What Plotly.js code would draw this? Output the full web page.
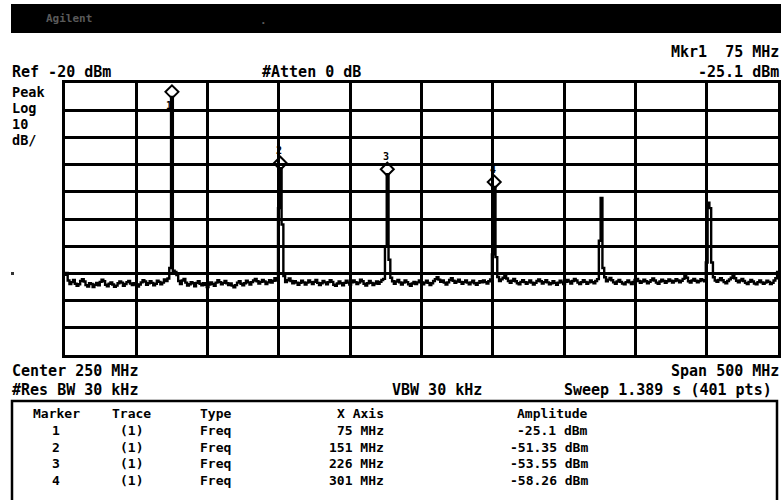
<!DOCTYPE html>
<html>
<head>
<meta charset="utf-8">
<script src="https://cdn.plot.ly/plotly-3.0.1.min.js"></script>
<style>html,body{margin:0;padding:0;background:#fff;}#chart{width:781px;height:500px;}</style>
</head>
<body>
<div id="chart"></div>
<script>
// ---- Instrument settings ----
const refLevel = -20;        // dBm
const dbPerDiv = 10;
const numDivs = 10;
const centerFreq = 250;      // MHz
const spanFreq = 500;        // MHz
const sweepPoints = 401;

// ---- Trace amplitudes (dBm), 401 points ----
const traceAmp = [
-90.5,-89.8,-92.6,-93.9,-93.2,-92.4,-93.8,-94.6,-94.0,-92.8,-92.1,-93.0,-94.3,-94.8,-93.6,-93.9,-95.0,-94.2,-93.5,-94.4,
-93.1,-92.3,-92.9,-94.2,-94.7,-93.8,-93.3,-94.1,-94.9,-94.5,-93.6,-93.0,-93.4,-94.6,-93.9,-93.2,-92.8,-93.7,-94.3,-93.6,
-94.0,-94.8,-94.1,-93.3,-92.5,-93.0,-94.2,-93.6,-92.9,-93.5,-94.4,-93.8,-92.7,-93.1,-94.0,-93.4,-92.2,-92.8,-91.9,-88.0,
-25.1,-89.0,-89.5,-90.6,-92.8,-93.9,-92.6,-92.0,-93.4,-94.5,-94.0,-93.2,-93.6,-94.7,-93.5,-92.9,-93.8,-94.4,-93.6,-94.2,
-95.0,-94.1,-93.3,-93.9,-94.6,-93.4,-92.5,-93.2,-94.0,-93.5,-92.8,-93.6,-94.3,-93.7,-94.5,-95.1,-94.3,-93.4,-92.9,-93.8,
-94.4,-93.6,-92.7,-93.3,-94.1,-93.2,-92.6,-92.0,-92.9,-93.7,-93.1,-92.4,-93.0,-93.9,-93.3,-92.5,-93.4,-92.7,-91.8,-92.6,
-66.0,-51.35,-72.0,-91.0,-93.2,-92.5,-91.9,-92.8,-93.6,-92.9,-93.4,-94.2,-93.5,-92.7,-93.3,-94.1,-93.4,-92.6,-93.2,-93.9,
-93.1,-92.4,-93.5,-94.3,-93.6,-92.8,-93.3,-94.0,-93.2,-92.5,-93.1,-94.2,-94.6,-93.7,-93.0,-93.6,-94.4,-93.5,-92.7,-93.4,
-94.1,-93.3,-92.6,-93.2,-93.9,-93.4,-92.3,-92.9,-93.8,-94.5,-93.6,-92.8,-93.5,-94.3,-93.7,-93.0,-93.8,-93.1,-92.4,-92.0,
-80.0,-53.55,-85.0,-91.6,-92.9,-93.8,-93.0,-92.4,-93.3,-94.1,-93.4,-92.6,-93.2,-94.0,-94.6,-93.7,-93.1,-93.9,-93.3,-92.6,
-93.2,-94.0,-93.4,-92.7,-93.5,-94.3,-93.6,-92.8,-92.1,-91.4,-92.3,-93.1,-92.6,-93.4,-94.1,-93.3,-92.4,-91.8,-92.7,-93.5,
-93.0,-92.3,-93.1,-93.8,-93.2,-92.6,-93.4,-94.0,-93.3,-92.7,-93.6,-94.2,-93.5,-92.9,-93.3,-92.6,-93.2,-93.7,-92.9,-92.2,
-83.0,-58.26,-84.0,-91.3,-92.8,-92.2,-91.6,-90.4,-91.9,-92.8,-93.5,-92.7,-92.0,-92.9,-93.6,-94.0,-93.1,-92.5,-93.2,-93.8,
-93.3,-92.6,-93.4,-94.1,-93.5,-92.8,-92.2,-92.9,-93.7,-93.2,-92.5,-93.3,-94.0,-93.6,-92.9,-93.5,-94.2,-93.4,-92.7,-93.3,
-93.9,-93.1,-92.4,-93.0,-93.7,-92.8,-92.0,-92.6,-93.4,-93.9,-93.2,-92.5,-93.1,-93.8,-93.3,-92.6,-93.2,-93.6,-92.8,-92.1,
-78.0,-62.3,-88.0,-91.4,-92.9,-92.3,-91.7,-92.5,-93.3,-93.8,-93.0,-92.4,-93.1,-93.7,-94.0,-93.2,-92.6,-93.3,-93.9,-93.1,
-92.4,-92.0,-92.8,-93.5,-93.0,-92.3,-92.9,-93.6,-93.1,-92.5,-91.9,-92.6,-93.4,-93.8,-93.0,-92.3,-92.8,-93.5,-92.9,-92.2,
-92.7,-93.4,-92.8,-92.1,-92.6,-93.3,-92.7,-92.0,-90.5,-91.6,-92.9,-93.4,-92.6,-92.0,-92.7,-93.3,-92.8,-92.1,-92.5,-92.9,
-86.0,-64.0,-66.0,-86.0,-91.4,-92.6,-93.1,-92.4,-91.8,-92.5,-93.2,-93.6,-92.8,-92.2,-91.6,-90.9,-91.8,-92.7,-93.3,-92.6,
-92.0,-92.8,-93.5,-93.9,-93.1,-92.4,-93.0,-93.7,-94.0,-93.2,-92.6,-93.3,-93.8,-93.4,-92.7,-93.1,-93.9,-93.5,-92.6,-91.8,
-89.5
];

// ---- Marker table ----
const markerNums  = [1, 2, 3, 4];
const markerTrace = ["(1)", "(1)", "(1)", "(1)"];
const markerType  = ["Freq", "Freq", "Freq", "Freq"];
const markerFreq  = [75, 151, 226, 301];            // MHz
const markerAmp   = [-25.1, -51.35, -53.55, -58.26]; // dBm

// ---- Header / footer texts ----
const headerTexts = {
  brand: "Agilent",
  ref: "Ref -20 dBm",
  atten: "#Atten 0 dB",
  det: ["Peak", "Log", "10", "dB/"],
  center: "Center 250 MHz",
  span: "Span 500 MHz",
  rbw: "#Res BW 30 kHz",
  vbw: "VBW 30 kHz",
  sweep: "Sweep 1.389 s (401 pts)"
};
const tableHeaders = ["Marker", "Trace", "Type", "X Axis", "Amplitude"];

// ---- Build sweep frequency axis ----
const startFreq = centerFreq - spanFreq / 2;
const stepFreq = spanFreq / (sweepPoints - 1);
const freqs = traceAmp.map((_, i) => startFreq + i * stepFreq);

// ---- Geometry helpers (pixel -> paper) ----
const W = 781, H = 500, L = 65, R = 778, T = 83, B = 355;
const px = x => (x - L) / (R - L);
const py = y => (B - y) / (B - T);
const FONT = "DejaVu Sans Mono";

function txt(text, x, baseline, anchor, size, color, pad) {
  size = size || 15;
  pad = (pad === undefined) ? 1 : pad;
  const off = pad + 1;
  let xx = x;
  if (anchor === 'left') xx = x - off;
  if (anchor === 'right') xx = x + off;
  return {
    text: text, xref: 'paper', yref: 'paper',
    x: px(xx), y: py(baseline - 0.35 * size),
    xanchor: anchor, yanchor: 'middle', showarrow: false, borderpad: pad,
    font: {family: FONT, size: size, color: color || '#000', weight: 'bold'}
  };
}

const annotations = [];
annotations.push(txt(headerTexts.brand, 46, 22, 'left', 11, '#5a5a5a'));
annotations.push(txt(".", 260, 24, 'left', 11, '#5a5a5a'));
annotations.push(txt(headerTexts.ref, 12, 77, 'left'));
annotations.push(txt(headerTexts.atten, 262, 77, 'left'));
annotations.push(txt("Mkr" + markerNums[0] + "  " + markerFreq[0] + " MHz", 779, 57, 'right'));
annotations.push(txt(String(markerAmp[0]) + " dBm", 779, 77, 'right'));
headerTexts.det.forEach((t, i) => annotations.push(txt(t, 12, 97 + i * 16, 'left', 13.5, '#000', 0)));
annotations.push(txt(headerTexts.center, 12, 376, 'left'));
annotations.push(txt(headerTexts.span, 779, 376, 'right'));
annotations.push(txt(headerTexts.rbw, 12, 395, 'left'));
annotations.push(txt(headerTexts.vbw, 392, 395, 'left'));
annotations.push(txt(headerTexts.sweep, 772, 395, 'right'));

// table
const TS = 13;
const hdrBase = 418, rowBase0 = 435, rowStep = 16.7;
annotations.push(txt(tableHeaders[0], 56, hdrBase, 'center', TS));
annotations.push(txt(tableHeaders[1], 131, hdrBase, 'center', TS));
annotations.push(txt(tableHeaders[2], 200, hdrBase, 'left', TS));
annotations.push(txt(tableHeaders[3], 384, hdrBase, 'right', TS));
annotations.push(txt(tableHeaders[4], 588, hdrBase, 'right', TS));
markerNums.forEach((m, i) => {
  const b = rowBase0 + i * rowStep;
  annotations.push(txt(String(m), 56, b, 'center', TS));
  annotations.push(txt(markerTrace[i], 131, b, 'center', TS));
  annotations.push(txt(markerType[i], 200, b, 'left', TS));
  annotations.push(txt(markerFreq[i] + " MHz", 384, b, 'right', TS));
  annotations.push(txt(String(markerAmp[i]) + " dBm", 588, b, 'right', TS));
});

// marker number labels on the trace
markerNums.forEach((m, i) => {
  const first = i === 0;
  annotations.push({
    text: String(m), xref: 'x', yref: 'y', x: markerFreq[i], y: markerAmp[i],
    showarrow: false, xanchor: 'center', yanchor: 'middle',
    xshift: first ? -3 : -1, yshift: first ? -9 : 18,
    font: {family: FONT, size: 10, color: '#000', weight: 'bold'}
  });
});

const dbPerPx = (dbPerDiv * numDivs) / (B - T);

const shapes = [
  // header bar
  {type: 'rect', xref: 'paper', yref: 'paper', x0: px(11), x1: px(781), y0: py(33), y1: py(4),
   fillcolor: '#000', line: {width: 0}, layer: 'below'},
  // marker table box
  {type: 'rect', xref: 'paper', yref: 'paper', x0: px(12), x1: px(777), y0: py(510), y1: py(401),
   fillcolor: 'rgba(0,0,0,0)', line: {color: '#000', width: 2.5}},
  // display line indicator dot
  {type: 'rect', xref: 'paper', yref: 'paper', x0: px(11), x1: px(14), y0: py(275), y1: py(272),
   fillcolor: '#333', line: {width: 0}}
];

const data = [
  {x: freqs, y: traceAmp, type: 'scatter', mode: 'lines',
   line: {color: '#000', width: 2.4, shape: 'hvh'}, hoverinfo: 'skip'},
  {x: markerFreq, y: markerAmp.map(a => a + 5 * dbPerPx), type: 'scatter', mode: 'markers',
   marker: {symbol: 'diamond-open', size: 10, color: '#000', line: {width: 2, color: '#000'}},
   cliponaxis: false, hoverinfo: 'skip'}
];

const layout = {
  width: W, height: H, autosize: false,
  margin: {l: L, r: W - R, t: T, b: H - B, pad: 0},
  paper_bgcolor: '#fff', plot_bgcolor: '#fff',
  showlegend: false,
  xaxis: {range: [startFreq, startFreq + spanFreq], dtick: spanFreq / 10, tick0: startFreq,
          showticklabels: false, ticks: '', showgrid: true, gridcolor: '#000', gridwidth: 3,
          zeroline: false, showline: true, mirror: true, linecolor: '#000', linewidth: 3, fixedrange: true},
  yaxis: {range: [refLevel - dbPerDiv * numDivs, refLevel], dtick: dbPerDiv, tick0: refLevel,
          showticklabels: false, ticks: '', showgrid: true, gridcolor: '#000', gridwidth: 3,
          zeroline: false, showline: true, mirror: true, linecolor: '#000', linewidth: 3, fixedrange: true},
  annotations: annotations,
  shapes: shapes
};

Plotly.newPlot('chart', data, layout, {staticPlot: true, displayModeBar: false});
</script>
</body>
</html>
